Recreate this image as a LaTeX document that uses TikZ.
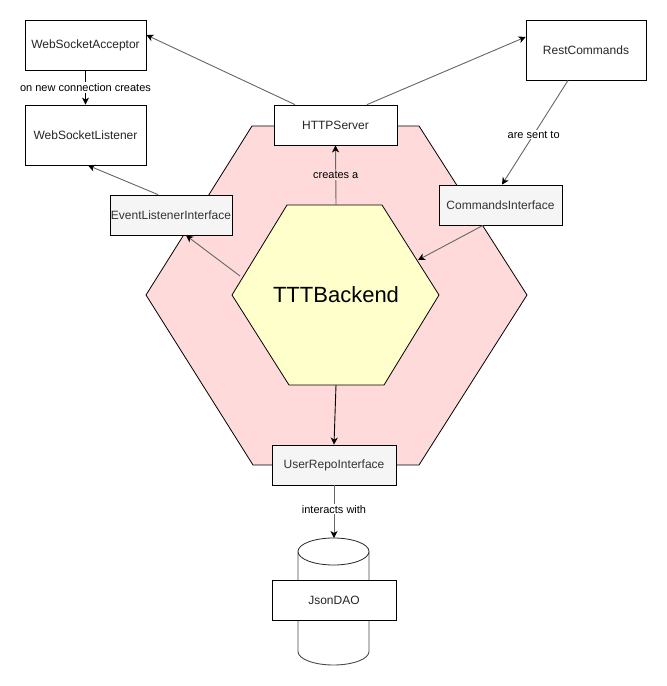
\documentclass[tikz,border=0pt]{standalone}
\usepackage{fontspec}
\setmainfont{Liberation Sans}
\usetikzlibrary{arrows.meta,calc}
\definecolor{hexpink}{HTML}{FFDADA}
\definecolor{hexyellow}{HTML}{FFFFCC}
\definecolor{ifill}{HTML}{F5F5F5}
\definecolor{itext}{HTML}{333333}
\definecolor{lgray}{HTML}{666666}
\begin{document}
\begin{tikzpicture}[x=1pt,y=-1pt,
  boxstyle/.style={draw=black, fill=white, line width=0.8pt, inner sep=0pt, font=\fontsize{12}{14}\selectfont, text=black!85},
  ifacestyle/.style={boxstyle, fill=ifill, text=itext},
  conn/.style={draw=lgray, line width=0.9pt, -{Stealth[length=7pt,width=7pt,inset=2pt,color=black]}},
  connblack/.style={conn, draw=black},
  elabel/.style={font=\fontsize{11}{13}\selectfont, fill=white, inner sep=1pt, text=black}]
\fill[white] (0,0) rectangle (667,686);
\useasboundingbox (0,0) rectangle (667,686);

% hexagons
\draw[fill=hexpink, line width=0.8pt] (252,126) -- (419,126) -- (527,295) -- (419,465) -- (253,465) -- (146,295) -- cycle;
\draw[fill=hexyellow, line width=0.8pt] (287,205) -- (382,205) -- (439,295) -- (384,385) -- (289,385) -- (232,295) -- cycle;
\node (ttt) at (336,295) {\fontsize{22}{26}\selectfont TTTBackend};
\coordinate (tttN) at (336,205);
\coordinate (tttNW) at (240,276);
\coordinate (tttNE) at (418,260);
\coordinate (tttS) at (336,385);

% cylinder
\fill[white] (298,551.5) -- (298,651.5) arc[start angle=180, end angle=360, x radius=35.5pt, y radius=13.5pt] -- (369,551.5) -- cycle;
\draw[black!70, line width=0.9pt] (298,551.5) -- (298,651.5) arc[start angle=180, end angle=360, x radius=35.5pt, y radius=13.5pt] -- (369,551.5);
\draw[black!85, fill=white, line width=0.8pt] (333.5,551.5) ellipse [x radius=35.5pt, y radius=13.5pt];
\coordinate (cyltop) at (334,538);

% boxes
\node[boxstyle, minimum width=121pt, minimum height=50pt] (wsa) at (85.5,45) {WebSocketAcceptor};
\node[boxstyle, minimum width=121pt, minimum height=60pt] (wsl) at (85.5,135) {WebSocketListener};
\node[boxstyle, minimum width=123pt, minimum height=40pt] (http) at (335.5,125) {HTTPServer};
\node[boxstyle, minimum width=120pt, minimum height=60pt] (rest) at (586,50) {RestCommands};
\node[ifacestyle, minimum width=123pt, minimum height=40pt] (cmd) at (500.5,205) {CommandsInterface};
\node[ifacestyle, minimum width=122pt, minimum height=40pt] (evl) at (171,215) {EventListenerInterface};
\node[ifacestyle, minimum width=124pt, minimum height=40pt] (urepo) at (334,465) {UserRepoInterface};
\node[boxstyle, minimum width=124pt, minimum height=40pt] (json) at (334,600) {JsonDAO};

% connectors
\draw[conn] ($(http.north)+(-40.5,0)$) -- ($(wsa.east)+(0,-10)$);
\draw[conn] ($(http.north)+(31.5,0)$) -- ($(rest.west)+(0,-13)$);
\draw[connblack] (wsa.south) -- node[elabel] {on new connection creates} (wsl.north);
\draw[conn] ($(rest.south)+(-18,0)$) -- node[elabel, pos=0.52] {are sent to} ($(cmd.north)+(1.5,0)$);
\draw[conn] ($(evl.north)+(-13,0)$) -- ($(wsl.south)+(2.5,0)$);
\draw[conn] (tttN) -- node[elabel, fill=hexpink, pos=0.5] {creates a} (http.south);
\draw[conn] (tttNW) -- ($(evl.south)+(15,0)$);
\draw[conn] ($(cmd.south)+(-17.5,0)$) -- (tttNE);
\draw[connblack] (tttS) -- (urepo.north);
\draw[conn] (urepo.south) -- node[elabel, pos=0.45] {interacts with} (cyltop);
\end{tikzpicture}
\end{document}
